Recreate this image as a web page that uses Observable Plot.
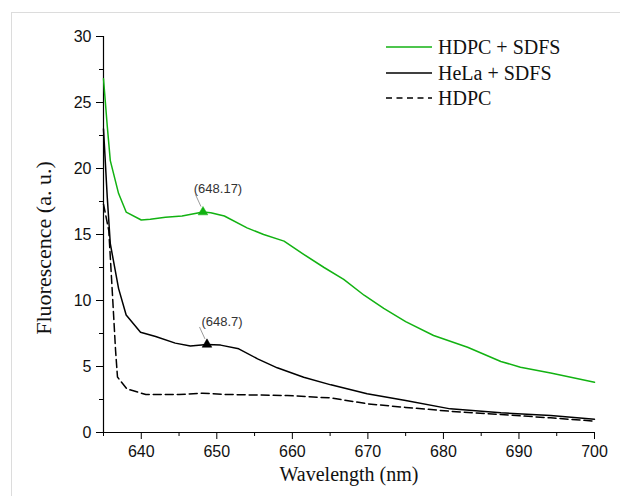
<!DOCTYPE html>
<html>
<head>
<meta charset="utf-8">
<script src="https://cdn.jsdelivr.net/npm/d3@7"></script>
<script src="https://cdn.jsdelivr.net/npm/@observablehq/plot@0.6"></script>
<style>
  body { margin: 0; background: #fff; }
  #wrap { position: relative; width: 620px; height: 496px; overflow: hidden; background: #fff; }
  #frame { position: absolute; left: 11px; top: 12px; width: 640px; height: 520px;
           border-left: 1px solid #dcdcdc; border-top: 1px solid #dcdcdc; pointer-events: none; }
  #chart { position: absolute; left: 0; top: 0; }
  .serif { font-family: "Liberation Serif", "Times New Roman", serif; color: #111; }
  #xtitle { position: absolute; left: 349px; top: 464px; transform: translateX(-50%);
            font-size: 20px; line-height: 20px; white-space: nowrap; }
  #ytitle { position: absolute; left: 44px; top: 248px; transform: translate(-50%, -50%) rotate(-90deg);
            font-size: 22px; line-height: 22px; white-space: nowrap; }
  #legend { position: absolute; left: 0; top: 0; }
  .lrow { position: absolute; left: 386px; height: 24px; display: flex; align-items: center; white-space: nowrap; }
  .lrow svg { margin-right: 6px; }
  .lrow span { font-size: 20px; line-height: 24px; }
</style>
</head>
<body>
<div id="wrap">
  <div id="chart"></div>
  <div id="frame"></div>
  <div id="xtitle" class="serif"></div>
  <div id="ytitle" class="serif"></div>
  <div id="legend" class="serif"></div>
</div>
<script>
// ---- data ----
const seriesNames = ["HDPC + SDFS", "HeLa + SDFS", "HDPC"];
const seriesColors = ["#12b212", "#000000", "#000000"];
const seriesDash = [null, null, "8,4"];

const hdpcSdfsWl  = [635, 635.5, 635.9, 637, 638, 640, 641.2, 643.2, 645.4, 648.17, 649.2, 651, 654, 656.2, 658.9, 661.5, 664.2, 666.8, 669.5, 672.1, 675, 678.7, 683.2, 687.6, 690.2, 694.2, 700];
const hdpcSdfsVal = [26.8, 23.2, 20.6, 18.1, 16.7, 16.1, 16.15, 16.3, 16.4, 16.7, 16.65, 16.4, 15.5, 15.0, 14.5, 13.5, 12.5, 11.6, 10.4, 9.4, 8.4, 7.35, 6.46, 5.38, 4.95, 4.5, 3.8];

const helaSdfsWl  = [635, 635.5, 635.9, 637, 638, 639.9, 641.9, 644.5, 646.5, 648.7, 650.5, 652.9, 655.4, 658, 661.5, 665.1, 669.9, 675, 680.9, 687.6, 694.2, 700];
const helaSdfsVal = [23.0, 17.8, 14.3, 10.9, 8.9, 7.6, 7.27, 6.77, 6.55, 6.67, 6.62, 6.34, 5.58, 4.9, 4.19, 3.61, 2.93, 2.42, 1.79, 1.49, 1.29, 1.0];

const hdpcWl  = [635, 635.7, 636.2, 636.6, 636.85, 638.1, 640.6, 645, 648.1, 651.2, 659.3, 665.1, 670, 675, 680.9, 687.6, 694.2, 700];
const hdpcVal = [17.3, 15.3, 10.3, 6.2, 4.2, 3.3, 2.88, 2.88, 2.98, 2.88, 2.8, 2.62, 2.17, 1.9, 1.61, 1.36, 1.11, 0.86];

const peakSeries = ["HDPC + SDFS", "HeLa + SDFS"];
const peakWl     = [648.17, 648.7];
const peakVal    = [16.7, 6.67];
const peakLabels = ["(648.17)", "(648.7)"];
const peakColors = ["#12b212", "#000000"];

const xMajorTicks = [640, 650, 660, 670, 680, 690, 700];
const xMinorTicks = [635, 645, 655, 665, 675, 685, 695];
const yMajorTicks = [0, 5, 10, 15, 20, 25, 30];
const yMinorTicks = [2.5, 7.5, 12.5, 17.5, 22.5, 27.5];

const xTitle = "Wavelength (nm)";
const yTitle = "Fluorescence (a. u.)";

// ---- build table ----
const wlArrays = [hdpcSdfsWl, helaSdfsWl, hdpcWl];
const valArrays = [hdpcSdfsVal, helaSdfsVal, hdpcVal];
const rows = [];
seriesNames.forEach((s, k) => wlArrays[k].forEach((w, i) => rows.push({series: s, wl: w, val: valArrays[k][i]})));
const peaks = peakSeries.map((s, i) => ({series: s, wl: peakWl[i], val: peakVal[i], label: peakLabels[i], color: peakColors[i]}));

const sansFont = "'Liberation Sans', Arial, sans-serif";

// leader lines from markers to labels (pixel offsets are styling)
const leaderMark = (index, scales) => {
  const g = d3.create("svg:g").attr("stroke", "#808080").attr("stroke-width", 0.8);
  peaks.forEach(p => {
    const px = scales.x(p.wl), py = scales.y(p.val);
    g.append("line").attr("x1", px - 1.5).attr("y1", py - 5).attr("x2", px - 7).attr("y2", py - 17);
  });
  return g.node();
};

const marks = [
  Plot.ruleY([0], {stroke: "#000", strokeWidth: 1.2}),
  Plot.ruleX([635], {stroke: "#000", strokeWidth: 1.2}),
  Plot.axisX({ticks: xMajorTicks, tickSize: 7, tickPadding: 6, label: null, fontSize: 16, fontFamily: sansFont, fill: "#111", stroke: "#000"}),
  Plot.axisX({ticks: xMinorTicks, tickSize: 4, text: null, label: null, stroke: "#000"}),
  Plot.axisY({ticks: yMajorTicks, tickSize: 7, tickPadding: 5, label: null, fontSize: 16, fontFamily: sansFont, fill: "#111", stroke: "#000"}),
  Plot.axisY({ticks: yMinorTicks, tickSize: 4, text: null, label: null, stroke: "#000"})
];
seriesNames.forEach((s, k) => {
  marks.push(Plot.line(rows.filter(d => d.series === s), {
    x: "wl", y: "val", stroke: seriesColors[k], strokeWidth: 1.5,
    strokeDasharray: seriesDash[k] || undefined
  }));
});
marks.push(leaderMark);
marks.push(Plot.dot(peaks, {x: "wl", y: "val", symbol: "triangle", r: 3.6, fill: d => d.color, stroke: d => d.color, strokeWidth: 0.5}));
marks.push(Plot.text(peaks, {x: "wl", y: "val", text: "label", dx: 15, dy: -23, fontSize: 13, fontFamily: sansFont, fill: "#333"}));

const chart = Plot.plot({
  width: 620,
  height: 496,
  marginLeft: 103,
  marginRight: 26,
  marginTop: 36,
  marginBottom: 64,
  x: {domain: [635, 700]},
  y: {domain: [0, 30]},
  style: {background: "transparent", fontFamily: sansFont, fontSize: "16px", color: "#000"},
  marks
});
document.getElementById("chart").appendChild(chart);

document.getElementById("xtitle").textContent = xTitle;
document.getElementById("ytitle").textContent = yTitle;

// legend
const legend = document.getElementById("legend");
const legendCenters = [47, 73, 98];
seriesNames.forEach((s, k) => {
  const row = document.createElement("div");
  row.className = "lrow";
  row.style.top = (legendCenters[k] - 12) + "px";
  const dash = seriesDash[k] ? `stroke-dasharray="6,4.5"` : "";
  row.innerHTML = `<svg width="46" height="4"><line x1="0" y1="2" x2="46" y2="2" stroke="${seriesColors[k]}" stroke-width="1.5" ${dash}/></svg><span>${s}</span>`;
  legend.appendChild(row);
});
</script>
</body>
</html>
